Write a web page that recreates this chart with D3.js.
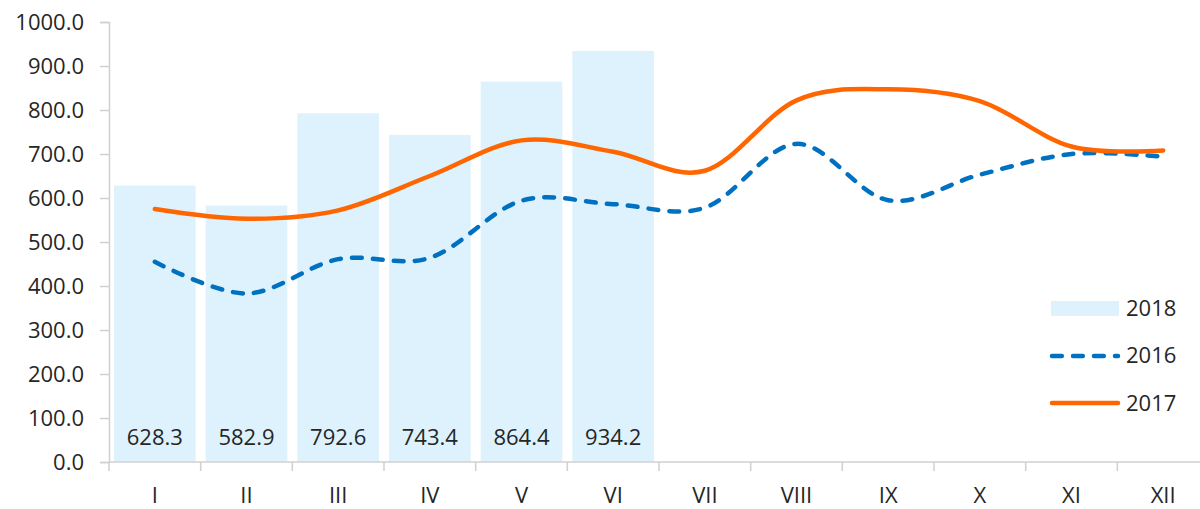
<!DOCTYPE html>
<html>
<head>
<meta charset="utf-8">
<script src="https://cdn.jsdelivr.net/npm/d3@7"></script>
<style>
    body { margin: 0; background: #fff; }
    text { font-family: "Open Sans", "Noto Sans", sans-serif; fill: #262626; }
</style>
</head>
<body>
<div id="chart"></div>
<script>
const months = ["I", "II", "III", "IV", "V", "VI", "VII", "VIII", "IX", "X", "XI", "XII"];
const values2018 = [628.3, 582.9, 792.6, 743.4, 864.4, 934.2];
const values2016 = [455, 383, 461, 464, 594, 586, 578, 723, 595, 653, 700, 694];
const values2017 = [575, 553, 572, 650, 731, 705, 662, 822, 847, 820, 717, 708];
const yTicks = [0, 100, 200, 300, 400, 500, 600, 700, 800, 900, 1000];

const width = 1200;
const height = 509;
const plotLeft = 109, plotRight = 1209, plotTop = 22, plotBottom = 462;

const svg = d3.select("#chart")
    .append("svg")
    .attr("width", width)
    .attr("height", height);

const x = d3.scaleBand()
    .domain(months)
    .range([plotLeft, plotRight])
    .paddingInner(0.11)
    .paddingOuter(0.055);

const y = d3.scaleLinear()
    .domain([0, 1000])
    .range([plotBottom, plotTop]);

// bars 2018
svg.selectAll(".bar")
    .data(values2018)
    .enter()
    .append("rect")
    .attr("x", (d, i) => x(months[i]))
    .attr("y", d => y(d))
    .attr("width", x.bandwidth())
    .attr("height", d => y(0) - y(d))
    .attr("fill", "#DDF2FC");

svg.selectAll(".barLabel")
    .data(values2018)
    .enter()
    .append("text")
    .attr("x", (d, i) => x(months[i]) + x.bandwidth() / 2)
    .attr("y", y(0) - 17)
    .attr("text-anchor", "middle")
    .style("font-size", "22px")
    .text(d => d.toFixed(1));

// y axis
const yAxis = svg.append("g")
    .attr("transform", "translate(" + plotLeft + ",0)")
    .call(d3.axisLeft(y).tickValues(yTicks).tickSize(9).tickPadding(16).tickFormat(d3.format(".1f")));
yAxis.selectAll("line, path").attr("stroke", "#D0D0D0").attr("stroke-width", 1.5);
yAxis.selectAll("text").style("font-size", "22px").attr("fill", "#262626")
    .style("font-family", "'Open Sans', sans-serif");

// x axis with ticks between categories
const xAxis = svg.append("g")
    .attr("transform", "translate(0," + plotBottom + ")");
xAxis.append("line")
    .attr("x1", plotLeft).attr("x2", width)
    .attr("stroke", "#D0D0D0").attr("stroke-width", 1.5);
xAxis.selectAll(".sep")
    .data(months)
    .enter()
    .append("line")
    .attr("x1", (d, i) => plotLeft + i * x.step())
    .attr("x2", (d, i) => plotLeft + i * x.step())
    .attr("y1", 0).attr("y2", 9)
    .attr("stroke", "#D0D0D0").attr("stroke-width", 1.5);
xAxis.selectAll(".mlabel")
    .data(months)
    .enter()
    .append("text")
    .attr("x", d => x(d) + x.bandwidth() / 2)
    .attr("y", 41)
    .attr("text-anchor", "middle")
    .style("font-size", "22px")
    .text(d => d);

// lines
const line = d3.line()
    .x((d, i) => x(months[i]) + x.bandwidth() / 2)
    .y(d => y(d))
    .curve(d3.curveCardinal.tension(0));

svg.append("path")
    .datum(values2016)
    .attr("d", line)
    .attr("fill", "none")
    .attr("stroke", "#0070C0")
    .attr("stroke-width", 4.5)
    .attr("stroke-linecap", "round")
    .attr("stroke-dasharray", "9.8,11.2");

svg.append("path")
    .datum(values2017)
    .attr("d", line)
    .attr("fill", "none")
    .attr("stroke", "#FF6600")
    .attr("stroke-width", 4.5)
    .attr("stroke-linecap", "round");

// legend
const legend = svg.append("g");
legend.append("rect")
    .attr("x", 1051).attr("y", 301)
    .attr("width", 68).attr("height", 15)
    .attr("fill", "#DDF2FC");
legend.append("line")
    .attr("x1", 1052).attr("x2", 1118)
    .attr("y1", 356).attr("y2", 356)
    .attr("stroke", "#0070C0").attr("stroke-width", 4.5)
    .attr("stroke-linecap", "round")
    .attr("stroke-dasharray", "9.8,11.2");
legend.append("line")
    .attr("x1", 1052).attr("x2", 1118)
    .attr("y1", 403).attr("y2", 403)
    .attr("stroke", "#FF6600").attr("stroke-width", 4.5)
    .attr("stroke-linecap", "round");
legend.selectAll(".ltext")
    .data(["2018", "2016", "2017"])
    .enter()
    .append("text")
    .attr("x", 1126)
    .attr("y", (d, i) => 308 + i * 47.5)
    .attr("dy", "0.35em")
    .style("font-size", "22px")
    .text(d => d);
</script>
</body>
</html>
